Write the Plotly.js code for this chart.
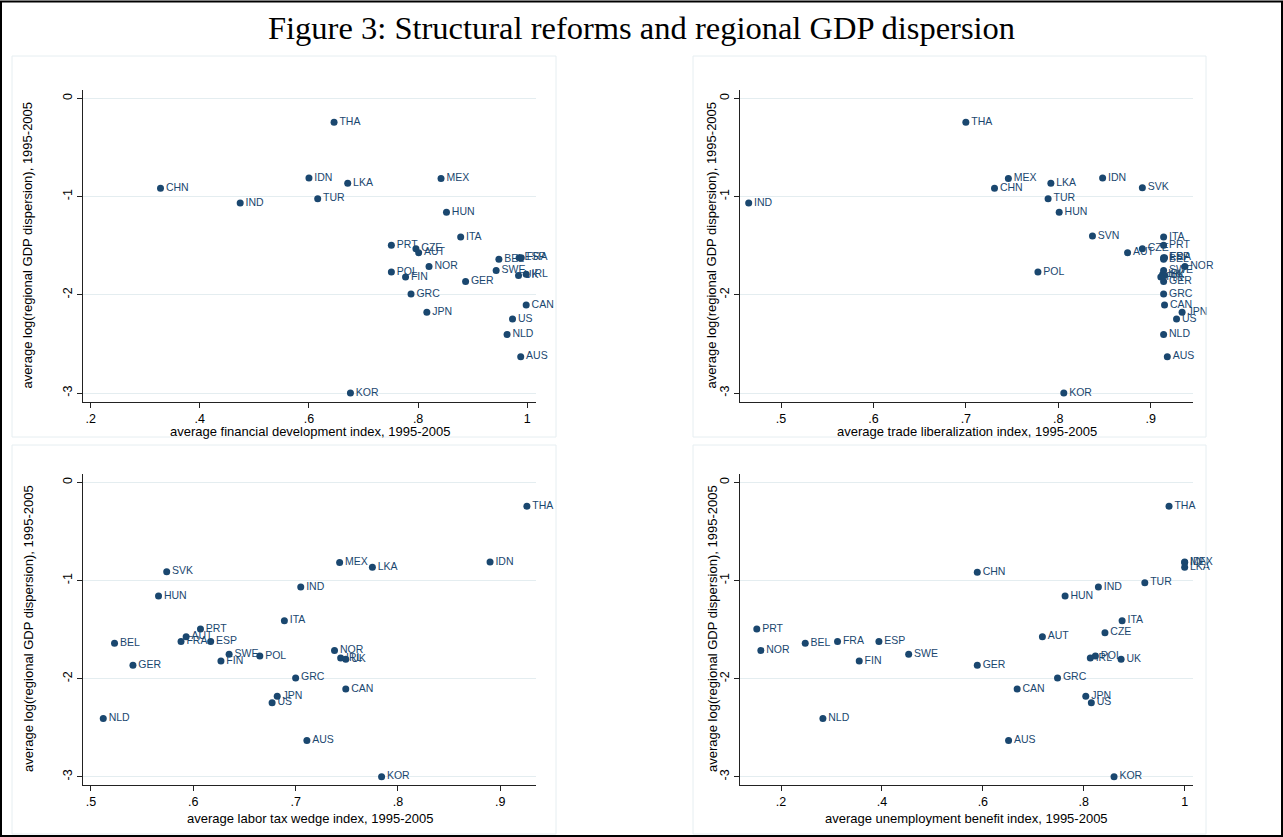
<!DOCTYPE html>
<html><head><meta charset="utf-8">
<script src="https://cdn.plot.ly/plotly-3.0.1.min.js"></script>
<style>body{margin:0;background:#fff;} #chart{width:1283px;height:837px;}</style>
</head><body><div id="chart"></div>
<script>
// ---- data ----
const countries = ['THA','IDN','MEX','LKA','CHN','SVK','IND','TUR','HUN','SVN','ITA','PRT','CZE','AUT','BEL','ESP','FRA','NOR','SWE','POL','IRL','UK','FIN','GER','GRC','CAN','JPN','US','NLD','AUS','KOR'];
const logDispersion = [-0.243,-0.811,-0.816,-0.865,-0.916,-0.910,-1.067,-1.022,-1.159,-1.401,-1.411,-1.495,-1.532,-1.573,-1.639,-1.622,-1.622,-1.712,-1.752,-1.769,-1.790,-1.803,-1.820,-1.864,-1.992,-2.105,-2.178,-2.246,-2.405,-2.630,-3.000];
const financialDev = [0.646,0.600,0.842,0.671,0.328,null,0.474,0.616,0.852,null,0.878,0.751,0.796,0.801,0.948,0.985,0.989,0.820,0.943,0.751,0.998,0.984,0.777,0.887,0.787,0.998,0.816,0.973,0.963,0.988,0.676];
const tradeLib = [0.700,0.848,0.746,0.792,0.731,0.891,0.465,0.789,0.801,0.837,0.914,0.914,0.891,0.875,0.914,0.914,0.915,0.937,0.914,0.778,0.913,0.915,0.911,0.914,0.914,0.915,0.934,0.928,0.914,0.918,0.806];
const laborTaxWedge = [0.926,0.890,0.743,0.775,null,0.574,0.705,null,0.566,null,0.689,0.607,null,0.593,0.523,0.617,0.588,0.738,0.635,0.665,0.744,0.749,0.627,0.541,0.700,0.749,0.682,0.677,0.512,0.711,0.784];
const unempBenefit = [0.969,1.000,1.000,1.000,0.589,null,0.829,0.921,0.763,null,0.876,0.152,0.842,0.718,0.248,0.394,0.312,0.160,0.453,0.823,0.813,0.874,0.355,0.589,0.748,0.668,0.804,0.815,0.283,0.651,0.860];

const yTickVals = [0,-1,-2,-3];
const yTickText = ['0','-1','-2','-3'];
const xTickVals1 = [0.2,0.4,0.6,0.8,1];
const xTickText1 = ['.2','.4','.6','.8','1'];
const xTickVals2 = [0.5,0.6,0.7,0.8,0.9];
const xTickText2 = ['.5','.6','.7','.8','.9'];
const xTickVals3 = [0.5,0.6,0.7,0.8,0.9];
const xTickText3 = ['.5','.6','.7','.8','.9'];
const xTickVals4 = [0.2,0.4,0.6,0.8,1];
const xTickText4 = ['.2','.4','.6','.8','1'];

const figTitle = 'Figure 3: Structural reforms and regional GDP dispersion';
const yTitle = 'average log(regional GDP dispersion), 1995-2005';
const xTitles = ['average financial development index, 1995-2005','average trade liberalization index, 1995-2005','average labor tax wedge index, 1995-2005','average unemployment benefit index, 1995-2005'];

// ---- layout helpers ----
const W = 1283, H = 837;
const px = v => v / W;
const py = v => 1 - v / H;
const NAVY = '#1a476f';
const FONT = 'Liberation Sans, Arial, sans-serif';
const AXFS = 13;

function trace(xs, ax) {
  return {
    type: 'scatter', mode: 'markers+text',
    x: xs, y: logDispersion, text: countries,
    textposition: 'middle right',
    textfont: {family: FONT, size: 10.5, color: NAVY},
    marker: {color: NAVY, size: 7},
    xaxis: 'x' + ax, yaxis: 'y' + ax,
    cliponaxis: false, hoverinfo: 'x+y+text'
  };
}
const data = [trace(financialDev,''), trace(tradeLib,'2'), trace(laborTaxWedge,'3'), trace(unempBenefit,'4')];
data[0].xaxis = 'x'; data[0].yaxis = 'y';

function xax(dom, range, tv, tt, anchor) {
  return {domain: dom, range: range, tickvals: tv, ticktext: tt, anchor: anchor,
    showline: true, linecolor: '#222', linewidth: 1, mirror: false,
    ticks: 'outside', ticklen: 5, tickcolor: '#222', showgrid: false, zeroline: false,
    tickfont: {family: FONT, size: 12.5, color: '#000'}, fixedrange: true};
}
function yax(dom, range, anchor) {
  return {domain: dom, range: range, tickvals: yTickVals, ticktext: yTickText, anchor: anchor,
    showline: true, linecolor: '#222', linewidth: 1, mirror: false,
    ticks: 'outside', ticklen: 5, tickcolor: '#222', tickangle: -90,
    showgrid: true, gridcolor: '#e4edf0', gridwidth: 1, zeroline: false,
    tickfont: {family: FONT, size: 12.5, color: '#000'}, fixedrange: true};
}
const xL = [px(83), px(536)], xR = [px(740), px(1193)];
const yT = [py(401.7), py(89.6)], yB = [py(785), py(473.6)];

function ann(text, x, y, angle) {
  return {text: text, xref:'paper', yref:'paper', x:px(x), y:py(y), xanchor:'center', yanchor:'middle',
    textangle: angle || 0, showarrow:false, font:{family:FONT, size:AXFS, color:'#000'}};
}

const layout = {
  width: W, height: H, margin: {l:0,r:0,t:0,b:0},
  paper_bgcolor: '#fff', plot_bgcolor: '#fff', showlegend: false,
  xaxis: xax(xL, [0.186,1.016], xTickVals1, xTickText1, 'y'),
  yaxis: yax(yT, [-3.0885,0.0885], 'x'),
  xaxis2: xax(xR, [0.4556,0.9458], xTickVals2, xTickText2, 'y2'),
  yaxis2: yax(yT, [-3.0885,0.0885], 'x2'),
  xaxis3: xax(xL, [0.4922,0.9349], xTickVals3, xTickText3, 'y3'),
  yaxis3: yax(yB, [-3.083,0.0885], 'x3'),
  xaxis4: xax(xR, [0.1187,1.0165], xTickVals4, xTickText4, 'y4'),
  yaxis4: yax(yB, [-3.083,0.0885], 'x4'),
  shapes: [
    {type:'rect', xref:'paper', yref:'paper', x0:px(1), x1:px(1282), y0:py(836), y1:py(1.5), line:{color:'#000', width:2}},
    {type:'rect', xref:'paper', yref:'paper', x0:px(12), x1:px(556), y0:py(437), y1:py(56), line:{color:'#e6eef1', width:1}},
    {type:'rect', xref:'paper', yref:'paper', x0:px(693), x1:px(1206), y0:py(437), y1:py(56), line:{color:'#e6eef1', width:1}},
    {type:'rect', xref:'paper', yref:'paper', x0:px(12), x1:px(556), y0:py(834), y1:py(445), line:{color:'#e6eef1', width:1}},
    {type:'rect', xref:'paper', yref:'paper', x0:px(693), x1:px(1206), y0:py(834), y1:py(445), line:{color:'#e6eef1', width:1}}
  ],
  annotations: [
    {text: figTitle, xref:'paper', yref:'paper', x:px(641), y:py(28), xanchor:'center', yanchor:'middle', showarrow:false,
     font:{family:'Liberation Serif, Times New Roman, serif', size:32.5, color:'#000'}},
    ann(xTitles[0], 309.5, 431), ann(xTitles[1], 966.5, 431),
    ann(xTitles[2], 309.5, 818), ann(xTitles[3], 966.5, 818),
    ann(yTitle, 28, 245.6, -90), ann(yTitle, 712, 245.6, -90),
    ann(yTitle, 28, 629, -90), ann(yTitle, 712, 629, -90)
  ]
};
Plotly.newPlot('chart', data, layout, {displayModeBar:false, staticPlot:true});
</script>
</body></html>
